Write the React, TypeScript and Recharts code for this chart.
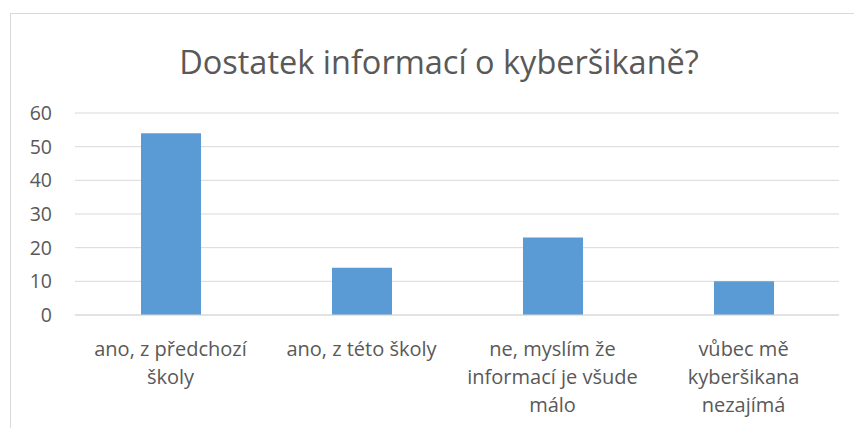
import { BarChart, Bar, XAxis, YAxis, CartesianGrid } from 'recharts';

const categories = [
  'ano, z předchozí\nškoly',
  'ano, z této školy',
  'ne, myslím že\ninformací je všude\nmálo',
  'vůbec mě\nkyberšikana\nnezajímá',
];
const counts = [54, 14, 23, 10];
const yTicks = [0, 10, 20, 30, 40, 50, 60];

const data = categories.map((name, i) => ({ name, count: counts[i] }));

const FONT = '"Open Sans", sans-serif';
const GREY = '#595959';

// multi-line category label, Excel style
function CategoryTick({ x, y, payload }: any) {
  const lines = String(payload.value).split('\n');
  return (
    <text x={x} y={y} textAnchor="middle" fill={GREY} fontSize={20} fontFamily={FONT}>
      {lines.map((line, i) => (
        <tspan key={i} x={x} dy={i === 0 ? 33 : 28}>
          {line}
        </tspan>
      ))}
    </text>
  );
}

export default function App() {
  return (
    <div style={{ position: 'absolute', left: 0, top: 0, width: 854, height: 428, background: '#fff', overflow: 'hidden' }}>
      <div
        style={{
          position: 'absolute',
          left: 10,
          top: 13,
          width: 900,
          height: 500,
          border: '1px solid #d9d9d9',
        }}
      />
      <div
        style={{
          position: 'absolute',
          left: 0,
          width: 878,
          top: 40,
          textAlign: 'center',
          fontFamily: FONT,
          fontSize: 32.5,
          color: GREY,
          lineHeight: '44px',
        }}
      >
        Dostatek informací o kyberšikaně?
      </div>
      <div style={{ position: 'absolute', left: 0, top: 0 }}>
        <BarChart width={854} height={428} data={data} margin={{ top: 113, right: 15, left: 0, bottom: 0 }}>
          <CartesianGrid stroke="#d9d9d9" vertical={false} />
          <XAxis
            dataKey="name"
            height={113}
            interval={0}
            axisLine={{ stroke: '#d9d9d9' }}
            tickLine={false}
            tick={<CategoryTick />}
          />
          <YAxis
            width={75}
            domain={[0, 60]}
            ticks={yTicks}
            axisLine={false}
            tickLine={false}
            tickMargin={17}
            tick={{ fill: GREY, fontSize: 19.5, fontFamily: FONT }}
          />
          <Bar dataKey="count" fill="#5b9bd5" barSize={60} isAnimationActive={false} />
        </BarChart>
      </div>
    </div>
  );
}
